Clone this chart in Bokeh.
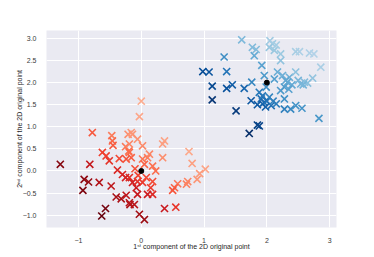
from bokeh.plotting import figure
from bokeh.models import ColumnDataSource, FixedTicker, CustomJSTickFormatter, Range1d
from bokeh.palettes import Reds256, Blues256
from bokeh.embed import file_html
from bokeh.resources import INLINE

# cluster around (0, 0)
red_x = [-1.29, -0.82, -0.78, -0.47, -0.46, -0.45, -0.21, -0.16, -0.25, -0.20,
         -0.62, -0.56, -0.51, -0.35, -0.24, -0.16, -0.38, -0.30, -0.19, -0.91,
         -0.84, -0.67, -0.48, -0.93, -0.40, -0.32, -0.24, -0.18, -0.57, -0.63,
         0.00, -0.03, -0.14, -0.06, 0.02, 0.37, 0.34, 0.34, 0.13, 0.10,
         0.02, 0.18, 0.23, 0.05, 0.76, 0.81, 1.02, 0.93, 0.89, 0.74,
         0.72, 0.58, 0.53, 0.50, 0.18, 0.15, 0.18, 0.10, -0.14, -0.06,
         0.02, -0.08, -0.06, -0.11, -0.19, -0.03, 0.05, 0.37, 0.55, -0.19,
         -0.19, -0.10, -0.05, -0.25, 0.08]
red_y = [0.15, 0.15, 0.87, 0.80, 0.68, 0.58, 0.83, 0.87, 0.55, 0.45,
         0.42, 0.34, 0.23, 0.28, 0.27, 0.30, 0.02, -0.08, -0.15, -0.19,
         -0.25, -0.26, -0.34, -0.44, -0.59, -0.63, -0.55, -0.76, -0.85, -1.02,
         1.58, 1.23, 0.83, 0.72, 0.57, 0.68, 0.61, 0.30, 0.38, 0.30,
         0.27, 0.11, 0.00, 0.15, 0.44, 0.17, 0.04, -0.06, -0.19, -0.24,
         -0.30, -0.29, -0.38, -0.44, -0.24, -0.38, -0.53, -0.53, -0.26, -0.24,
         -0.26, -0.38, -0.53, -0.76, -0.72, -0.98, -1.10, -0.85, -0.82, 0.61,
         0.42, 0.05, -0.10, -0.15, -0.15]

# cluster around (2, 2)
blue_x = [1.60, 1.77, 1.83, 1.80, 1.32, 0.98, 1.08, 1.36, 1.13, 1.36,
          1.45, 1.64, 1.76, 1.13, 1.51, 1.75, 1.85, 1.72, 1.92, 1.88,
          1.91, 1.93, 2.09, 2.04, 2.12, 2.22, 2.22, 2.46, 2.52, 2.68,
          2.75, 2.86, 1.96, 2.17, 2.25, 2.12, 2.36, 2.46, 2.33, 2.28,
          2.22, 2.54, 2.60, 2.73, 2.65, 1.99, 1.93, 2.04, 1.96, 2.07,
          2.28, 2.28, 2.38, 2.46, 2.56, 2.83, 1.88, 2.30, 2.40, 2.50,
          2.00, 1.98, 2.10, 2.15, 1.85, 2.05, 2.15, 2.58, 2.35]
blue_y = [2.97, 2.80, 2.75, 2.61, 2.58, 2.25, 2.24, 2.25, 1.92, 1.87,
          1.95, 1.87, 2.01, 1.61, 1.36, 1.59, 1.04, 0.85, 2.39, 1.78,
          1.63, 1.52, 2.88, 2.80, 2.73, 2.65, 2.50, 2.70, 2.70, 2.67,
          2.65, 2.35, 2.16, 2.24, 2.16, 2.08, 2.12, 2.24, 2.01, 1.90,
          1.82, 1.97, 2.01, 2.10, 1.99, 1.90, 1.70, 1.67, 1.55, 1.48,
          1.63, 1.40, 1.40, 1.48, 1.42, 1.19, 1.02, 2.05, 1.95, 2.05,
          1.58, 1.45, 1.58, 1.52, 1.50, 2.95, 2.85, 1.95, 1.85]

center_x = [0.0, 2.0]
center_y = [0.0, 2.0]

x_ticks = [-1, 0, 1, 2, 3]
y_ticks = [-1.0, -0.5, 0.0, 0.5, 1.0, 1.5, 2.0, 2.5, 3.0]


def rank_colors(xs, ys, palette, top):
    t = [a + b for a, b in zip(xs, ys)]
    order = sorted(range(len(t)), key=lambda i: t[i])
    n = len(t)
    cols = [None] * n
    for r, i in enumerate(order):
        f = r / (n - 1)
        cols[i] = palette[int(round(top * f ** 0.75))]
    return cols


red_src = ColumnDataSource(dict(x=red_x, y=red_y,
                                c=rank_colors(red_x, red_y, Reds256, 180)))
blue_src = ColumnDataSource(dict(x=blue_x, y=blue_y,
                                 c=rank_colors(blue_x, blue_y, Blues256, 175)))

p = figure(frame_width=290, frame_height=197, output_backend="svg", toolbar_location=None,
           x_range=Range1d(-1.51, 3.11), y_range=Range1d(-1.28, 3.18),
           min_border_left=46, min_border_right=20, min_border_top=30,
           min_border_bottom=20)

p.background_fill_color = "#EAEAF2"
p.border_fill_color = "white"
p.outline_line_color = None

p.xaxis.ticker = FixedTicker(ticks=x_ticks)
p.yaxis.ticker = FixedTicker(ticks=y_ticks)
p.xaxis.formatter = CustomJSTickFormatter(code="return tick.toFixed(0).replace('-', '\u2212');")
p.yaxis.formatter = CustomJSTickFormatter(code="return tick.toFixed(1).replace('-', '\u2212');")

for ax in [p.xaxis, p.yaxis]:
    ax.axis_line_color = None
    ax.major_tick_line_color = None
    ax.minor_tick_line_color = None
    ax.major_label_text_font_size = "7px"
    ax.major_label_text_color = "#3a3a3a"
    ax.major_label_text_font = "Liberation Sans"
    ax.axis_label_text_font = "Liberation Sans"
    ax.axis_label_text_font_size = "7px"
    ax.axis_label_text_font_style = "normal"
    ax.axis_label_text_color = "#262626"

p.xaxis.major_label_standoff = 4
p.xaxis.axis_label_standoff = -3
p.yaxis.major_label_standoff = 4
p.yaxis.axis_label_standoff = -3

p.xaxis.axis_label = "1\u02e2\u1d57 component of the 2D original point"
p.yaxis.axis_label = "2\u207f\u1d48 component of the 2D original point"

p.grid.grid_line_color = "white"
p.grid.grid_line_width = 1

p.scatter("x", "y", source=red_src, marker="x", size=10, line_width=1.6, color="c")
p.scatter("x", "y", source=blue_src, marker="x", size=10, line_width=1.6, color="c")
p.scatter(center_x, center_y, marker="circle", size=5, color="black")

open("out.html", "w").write(file_html(p, INLINE))
